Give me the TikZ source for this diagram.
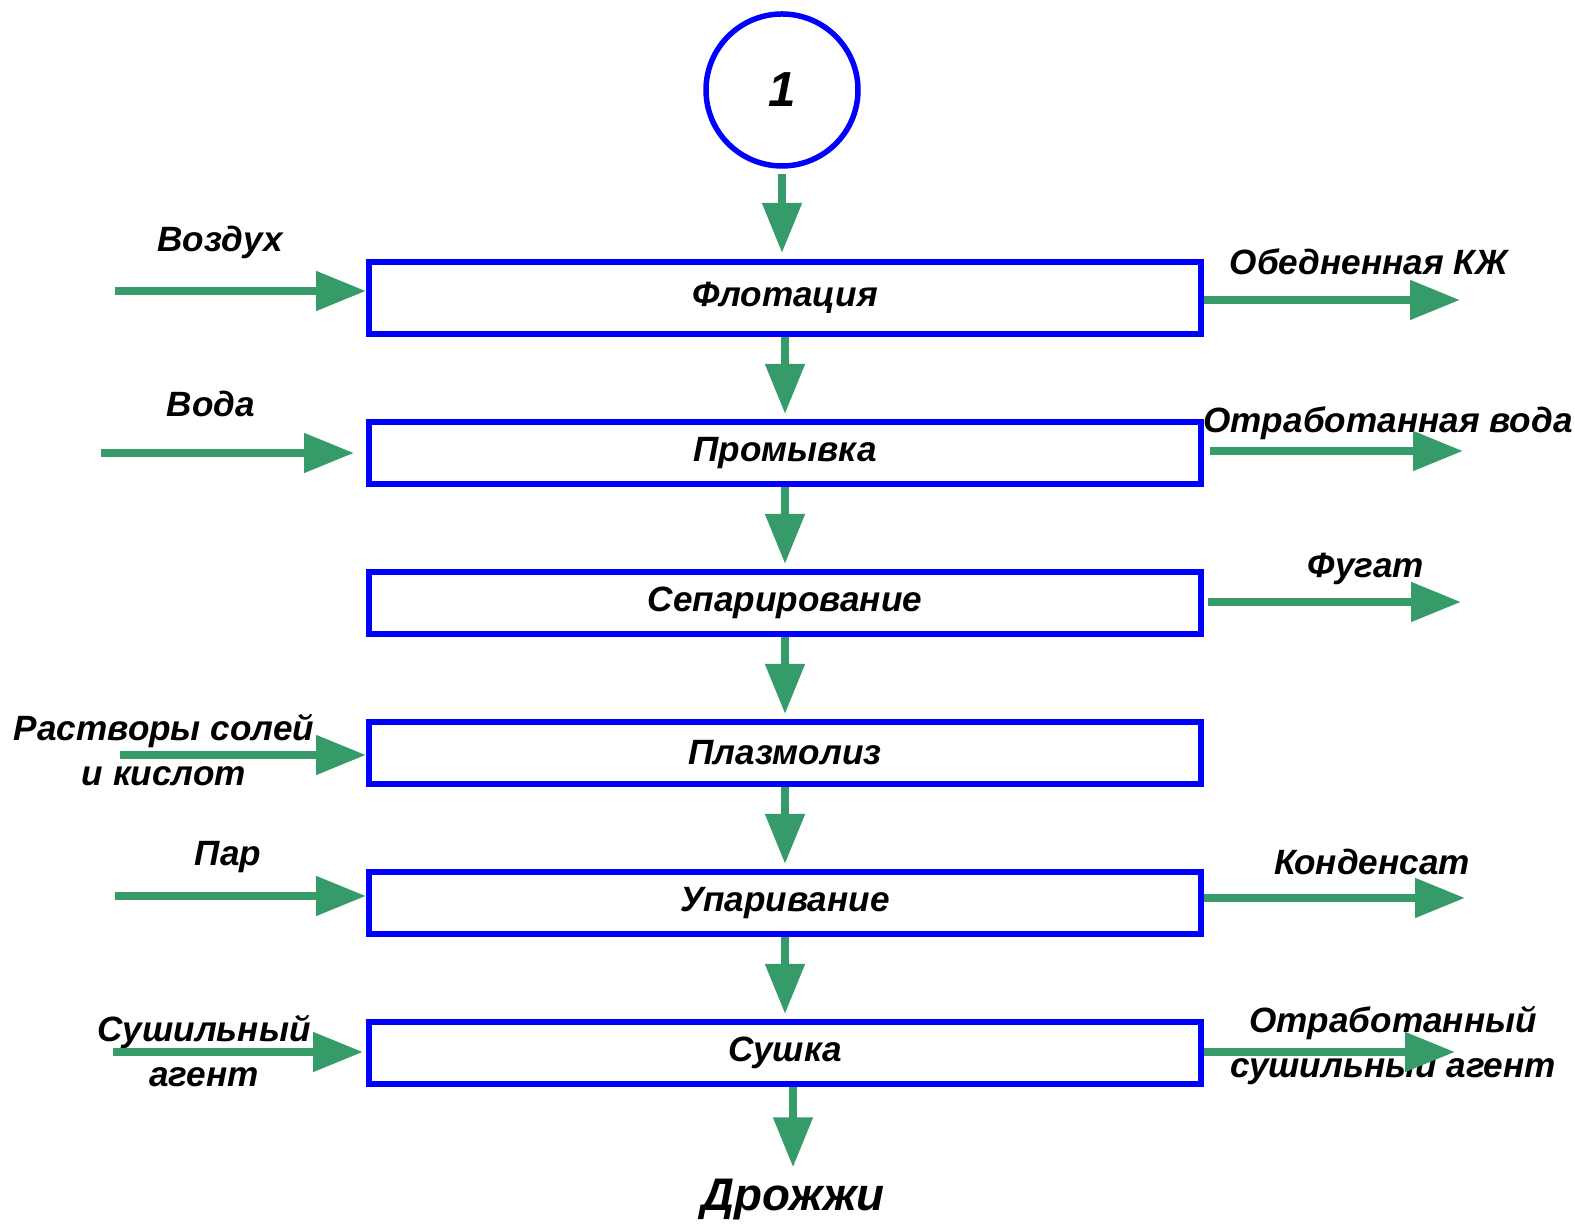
\documentclass[tikz,border=0pt]{standalone}
\usepackage{fontspec}
\setmainfont{Liberation Sans}
\usepackage{tikz}
\usetikzlibrary{arrows.meta, positioning}
\definecolor{flowgreen}{RGB}{53,155,105}
\definecolor{boxblue}{RGB}{0,0,255}
\tikzstyle{block} = [rectangle, draw=boxblue, line width=0.06cm, minimum width=8.32cm, minimum height=0.62cm, inner sep=0pt, text centered]
\tikzstyle{arrow} = [draw=flowgreen, line width=0.08cm, -{Triangle[length=0.5cm, width=0.38cm]}]
\tikzstyle{flowtext} = [align=center, inner sep=1pt]

\begin{document}
\begin{tikzpicture}[node distance=0.82cm, every node/.style={font=\bfseries\itshape\fontsize{10}{12.8}\selectfont}]
  \useasboundingbox (0,0) rectangle (15.75,12.3);
  \node[circle, draw=boxblue, line width=0.055cm, minimum size=1.52cm, font=\bfseries\itshape\fontsize{14}{16}\selectfont] (src) at (7.82,11.40) {1};
  \node[block, minimum height=0.72cm] (flot) at (7.85,9.32) {Флотация};
  \node[block, below=of flot] (wash) {Промывка};
  \node[block, below=of wash] (sep) {Сепарирование};
  \node[block, below=of sep] (plasm) {Плазмолиз};
  \node[block, below=of plasm] (evap) {Упаривание};
  \node[block, below=of evap] (dry) {Сушка};
  \node[flowtext, font=\bfseries\itshape\fontsize{13}{16}\selectfont] (yeast) at (7.93,0.30) {Дрожжи};

  % main line
  \draw[arrow, shorten <=0.05cm, shorten >=0.06cm] (src.south) -- (src.south |- flot.north);
  \draw[arrow, shorten >=0.05cm] (flot) -- (wash);
  \draw[arrow, shorten >=0.05cm] (wash) -- (sep);
  \draw[arrow, shorten >=0.05cm] (sep) -- (plasm);
  \draw[arrow, shorten >=0.05cm] (plasm) -- (evap);
  \draw[arrow, shorten >=0.05cm] (evap) -- (dry);
  \draw[arrow, shorten >=0.08cm] (dry.south -| yeast.north) -- (yeast.north);

  % inputs
  \coordinate (airin) at (1.15,9.39);
  \coordinate (waterin) at (1.01,7.77);
  \coordinate (saltin) at (1.20,4.75);
  \coordinate (steamin) at (1.15,3.34);
  \coordinate (agentin) at (1.13,1.78);
  \node[flowtext] (airtxt) at (2.20,9.88) {Воздух};
  \node[flowtext] (watertxt) at (2.11,8.26) {Вода};
  \node[flowtext] (salttxt) at (1.64,4.80) {Растворы солей\\и кислот};
  \node[flowtext] (steamtxt) at (2.28,3.73) {Пар};
  \node[flowtext] (agenttxt) at (2.04,1.79) {Сушильный\\агент};
  \draw[arrow] (airin) -- (airin -| flot.west);
  \draw[arrow, shorten >=0.12cm] (waterin) -- (waterin -| wash.west);
  \draw[arrow] (saltin) -- (saltin -| plasm.west);
  \draw[arrow] (steamin) -- (steamin -| evap.west);
  \draw[arrow, shorten >=0.03cm] (agentin) -- (agentin -| dry.west);

  % outputs
  \coordinate (leanout) at (14.60,9.30);
  \coordinate (wasteout) at (14.63,7.79);
  \coordinate (fugout) at (14.61,6.28);
  \coordinate (condout) at (14.65,3.32);
  \coordinate (agentout) at (14.55,1.78);
  \node[flowtext] (leantxt) at (13.69,9.68) {Обедненная КЖ};
  \node[flowtext] (wastetxt) at (13.88,8.07) {Отработанная вода};
  \node[flowtext] (fugtxt) at (13.66,6.61) {Фугат};
  \node[flowtext] (condtxt) at (13.72,3.68) {Конденсат};
  \node[flowtext] (agentouttxt) at (13.93,1.84) {Отработанный\\сушильный агент};
  \draw[arrow] (leanout -| flot.east) -- (leanout);
  \draw[arrow] ([xshift=0.06cm]wasteout -| wash.east) -- (wasteout);
  \draw[arrow] ([xshift=0.04cm]fugout -| sep.east) -- (fugout);
  \draw[arrow] (condout -| evap.east) -- (condout);
  \draw[arrow] (agentout -| dry.east) -- (agentout);
\end{tikzpicture}
\end{document}
